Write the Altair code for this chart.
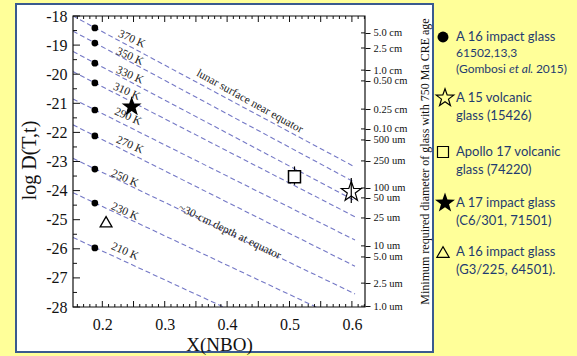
import json
import numpy as np
import pandas as pd
import altair as alt

# ---------------- data ----------------
temps = ["370 K", "350 K", "330 K", "310 K", "290 K", "270 K", "250 K", "230 K", "210 K"]
dot_x = [0.188, 0.188, 0.188, 0.188, 0.188, 0.188, 0.188, 0.188, 0.188]
dot_logd = [-18.41, -18.93, -19.62, -20.30, -21.23, -22.12, -23.26, -24.43, -25.97]
line_x_start = 0.153
line_x_end = 0.605
line_start = [-18.00, -18.52, -19.22, -19.91, -20.85, -21.74, -22.89, -24.07, -25.61]
line_end = [-23.19, -23.72, -24.35, -24.90, -25.70, -26.60, -27.55, -28.63, -30.09]
label_x = [0.247, 0.244, 0.244, 0.239, 0.241, 0.244, 0.236, 0.236, 0.236]
label_y = [-18.80, -19.40, -20.04, -20.61, -21.47, -22.44, -23.59, -24.73, -26.10]

# samples
a17_impact = {"x": [0.247], "y": [-21.12]}
a16_g3 = {"x": [0.206], "y": [-25.07]}
a17_volc = {"x": [0.508], "y": [-23.52], "lo": [-23.80], "hi": [-23.17]}
a15_volc = {"x": [0.599], "y": [-24.04], "lo": [-24.43], "hi": [-23.57]}

# annotations
notes = ["lunar surface near equator", "~30-cm depth at equator"]
note_x = [0.436, 0.404]
note_y = [-20.94, -25.42]
note_angle = [29, 26]

# right axis (minimum required diameter)
right_labels = ["5.0 cm", "2.5 cm", "1.0 cm", "0.50 cm", "0.25 cm", "0.10 cm", "500 um",
                "250 um", "100 um", "50 um", "25 um", "10 um", "5.0 um", "2.5 um", "1.0 um"]
right_pos = [-18.58, -19.10, -19.86, -20.23, -21.20, -21.88, -22.26,
             -22.98, -23.91, -24.25, -24.94, -25.90, -26.28, -27.18, -27.97]

# axis ticks
x_labels = [0.2, 0.3, 0.4, 0.5, 0.6]
x_major = [0.2, 0.25, 0.3, 0.35, 0.4, 0.45, 0.5, 0.55, 0.6]
x_minor = [v for v in np.round(np.arange(0.16, 0.621, 0.01), 2) if min(abs(v - m) for m in x_major) > 1e-6]
y_labels = [-18, -19, -20, -21, -22, -23, -24, -25, -26, -27, -28]
y_minor = [-18.5, -19.5, -20.5, -21.5, -22.5, -23.5, -24.5, -25.5, -26.5, -27.5]

# legend
leg_title = ["A 16 impact glass", "A 15 volcanic", "Apollo 17 volcanic", "A 17 impact glass", "A 16 impact glass"]
leg_sub = ["61502,13,3", "glass (15426)", "glass (74220)", "(C6/301, 71501)", "(G3/225, 64501)."]
leg_ref = ["(Gombosi", "et al", ". 2015)"]

# ---------------- layout ----------------
L, T = 73, 16
W, H = 292, 291
YELLOW = "#FFFF99"
NAVY = "#1F3B70"
SERIF = "Liberation Serif"
LINE_C = "#7478C6"

xs = alt.Scale(domain=[0.153, 0.621], nice=False, zero=False)
ys = alt.Scale(domain=[-28, -18], nice=False, zero=False)

x_axis = alt.Axis(values=x_labels, format=".1f", ticks=False, tickSize=0, domain=False, grid=False,
                  labelFont=SERIF, labelFontSize=16, labelColor="#111", labelPadding=9,
                  title="X(NBO)", titleFont=SERIF, titleFontSize=19, titleFontWeight="normal",
                  titleColor="#111", titleX=146, titleY=43, titleBaseline="alphabetic",
                  titleAlign="center", zindex=1)
y_axis = alt.Axis(values=y_labels, labelExpr="'' + datum.value", ticks=False, tickSize=0,
                  domain=False, grid=False, labelFont=SERIF, labelFontSize=16, labelColor="#111",
                  labelPadding=6, title="log D(T,t)", titleFont=SERIF, titleFontSize=20,
                  titleFontWeight="normal", titleColor="#111", titleX=-44, titleY=144,
                  titleAngle=270, titleBaseline="middle", titleAlign="center", zindex=1)
r_expr = "%s[indexof(%s, datum.value)]" % (json.dumps(right_labels), json.dumps(right_pos))
r_axis = alt.Axis(orient="right", values=right_pos, labelExpr=r_expr, ticks=True, tickSize=5,
                  tickColor="#111", domain=False, grid=False, labelFont=SERIF, labelFontSize=10.5,
                  labelColor="#111", labelPadding=3, labelOverlap=False, labelFlush=False,
                  title="Minimum required diameter of glass with 750 Ma CRE age",
                  titleFont=SERIF, titleFontSize=12, titleFontWeight="normal", titleColor="#111",
                  titleX=59, titleY=145, titleAngle=270, titleBaseline="middle",
                  titleAlign="center", zindex=1)


def X(f):
    return alt.X(f, type="quantitative", scale=xs, axis=x_axis)


def Y(f):
    return alt.Y(f, type="quantitative", scale=ys, axis=y_axis)


one = pd.DataFrame({"a": [0]})


def star_path(r_in=0.40):
    pts = []
    for k in range(10):
        ang = np.deg2rad(-90 + 36 * k)
        r = 1.0 if k % 2 == 0 else r_in
        pts.append((r * np.cos(ang), r * np.sin(ang)))
    return "M" + " L".join(f"{x:.3f},{y:.3f}" for x, y in pts) + " Z"


STAR = star_path()

# white panel behind everything
panel = alt.Chart(one).mark_rect(fill="white", stroke="#3A5A8F", strokeWidth=2).encode(
    x=alt.value(16 - L), x2=alt.value(433 - L), y=alt.value(4 - T), y2=alt.value(352 - T))

# dashed temperature lines
rows = []
for t, a, b in zip(temps, line_start, line_end):
    rows.append({"T": t, "x": line_x_start, "y": a})
    rows.append({"T": t, "x": line_x_end, "y": b})
lines_df = pd.DataFrame(rows)
lines = alt.Chart(lines_df).mark_line(color=LINE_C, strokeWidth=1.1, strokeDash=[5, 3], clip=True).encode(
    x=X("x"), y=Y("y"), detail="T:N")

dots_df = pd.DataFrame({"x": dot_x, "y": dot_logd})
dots = alt.Chart(dots_df).mark_point(shape="circle", filled=True, color="black", size=45, opacity=1).encode(
    x=X("x"), y=Y("y"))

tl_df = pd.DataFrame({"x": label_x, "y": label_y, "t": temps})
tlabels = alt.Chart(tl_df).mark_text(font=SERIF, fontSize=11.5, angle=24, color="#222",
                                     align="center", baseline="middle").encode(
    x=X("x"), y=Y("y"), text="t:N")

notes_df = pd.DataFrame({"x": note_x, "y": note_y, "t": notes})
note_layers = []
for i in range(len(notes)):
    note_layers.append(alt.Chart(notes_df.iloc[[i]]).mark_text(
        font=SERIF, fontSize=11.5, angle=note_angle[i], color="#222", align="center",
        baseline="middle").encode(x=X("x"), y=Y("y"), text="t:N"))

# error bars
e1 = alt.Chart(pd.DataFrame(a17_volc)).mark_rule(color="black", strokeWidth=1.2).encode(
    x=X("x"), y=Y("lo"), y2="hi")
e2 = alt.Chart(pd.DataFrame(a15_volc)).mark_rule(color="black", strokeWidth=1.2).encode(
    x=X("x"), y=Y("lo"), y2="hi")

m_a17 = alt.Chart(pd.DataFrame(a17_impact)).mark_point(shape=STAR, filled=True, color="black",
                                                      size=441, opacity=1).encode(x=X("x"), y=Y("y"))
m_a16 = alt.Chart(pd.DataFrame(a16_g3)).mark_point(shape="triangle-up", filled=True, fill="white",
                                                  stroke="black", strokeWidth=1.3, size=140,
                                                  opacity=1).encode(x=X("x"), y=Y("y"))
m_a17v = alt.Chart(pd.DataFrame({"x": a17_volc["x"], "y": a17_volc["y"]})).mark_point(
    shape="square", filled=True, fill="white", stroke="black", strokeWidth=1.5, size=144,
    opacity=1).encode(x=X("x"), y=Y("y"))
m_a15 = alt.Chart(pd.DataFrame({"x": a15_volc["x"], "y": a15_volc["y"]})).mark_point(
    shape=STAR, filled=False, stroke="black", strokeWidth=1.2, size=441,
    opacity=1).encode(x=X("x"), y=Y("y"))


# inward ticks
def xticks(vals, ln):
    d = pd.DataFrame({"v": vals})
    b = alt.Chart(d).mark_rule(color="#111", strokeWidth=1).encode(
        x=X("v"), y=alt.value(H), y2=alt.value(H - ln))
    t = alt.Chart(d).mark_rule(color="#111", strokeWidth=1).encode(
        x=X("v"), y=alt.value(0), y2=alt.value(ln))
    return [b, t]


def yticks(vals, ln, right=False):
    d = pd.DataFrame({"v": vals})
    if right:
        return [alt.Chart(d).mark_rule(color="#111", strokeWidth=1).encode(
            y=Y("v"), x=alt.value(W), x2=alt.value(W - ln))]
    return [alt.Chart(d).mark_rule(color="#111", strokeWidth=1).encode(
        y=Y("v"), x=alt.value(0), x2=alt.value(ln))]


tick_layers = (xticks(x_major, 6) + xticks(x_minor, 3) + yticks(y_labels, 7) + yticks(y_minor, 4)
               + yticks(right_pos, 4, right=True))

frame = alt.Chart(one).mark_rect(fillOpacity=0, stroke="#111", strokeWidth=1.2).encode(
    x=alt.value(0), x2=alt.value(W), y=alt.value(0), y2=alt.value(H))


# legend (custom, drawn in the yellow margin)
def ltxt(s, x, y, size, style="normal"):
    return alt.Chart(one).mark_text(text=s, font="Lato", fontSize=size, fontStyle=style, color=NAVY,
                                    align="left", baseline="middle").encode(
        x=alt.value(x - L), y=alt.value(y - T))


def lsym(shape, x, y, size, filled, sw=1.2):
    if filled:
        mk = alt.Chart(one).mark_point(shape=shape, filled=True, color="black", size=size, opacity=1)
    else:
        mk = alt.Chart(one).mark_point(shape=shape, filled=False, stroke="black", strokeWidth=sw,
                                       size=size, opacity=1)
    return mk.encode(x=alt.value(x - L), y=alt.value(y - T))


sym_y = [37, 98, 152, 203, 252]
legend = [
    lsym("circle", 443, sym_y[0], 120, True),
    lsym(STAR, 445, sym_y[1], 340, False),
    lsym("square", 443, sym_y[2], 121, False, 1.2),
    lsym(STAR, 445, sym_y[3], 441, True),
    lsym("triangle-up", 443, sym_y[4], 150, False),
]
for i in range(5):
    legend.append(ltxt(leg_title[i], 456, sym_y[i], 13))
legend.append(ltxt(leg_sub[0], 456, 53, 12))
legend.append(ltxt(leg_ref[0], 456, 69, 12))
legend.append(ltxt(leg_ref[1], 509, 69, 12, "italic"))
legend.append(ltxt(leg_ref[2], 530, 69, 12))
for i in range(1, 5):
    legend.append(ltxt(leg_sub[i], 456, sym_y[i] + 18, 13))

main = alt.layer(panel, lines, *tick_layers, dots, tlabels, *note_layers, e1, e2,
                 m_a17, m_a16, m_a17v, m_a15, frame, *legend)

right = alt.Chart(pd.DataFrame({"pos": right_pos})).mark_point(opacity=0).encode(
    y=alt.Y("pos:Q", scale=ys, axis=r_axis))

chart = alt.layer(main, right).resolve_scale(y="independent").properties(
    width=W, height=H,
    padding={"left": L, "top": T, "right": 577 - L - W, "bottom": 356 - T - H},
    autosize=alt.AutoSizeParams(type="none"),
    background=YELLOW,
).configure_view(stroke=None)

chart.save("out.html", embed_options={"renderer": "svg", "actions": False})
